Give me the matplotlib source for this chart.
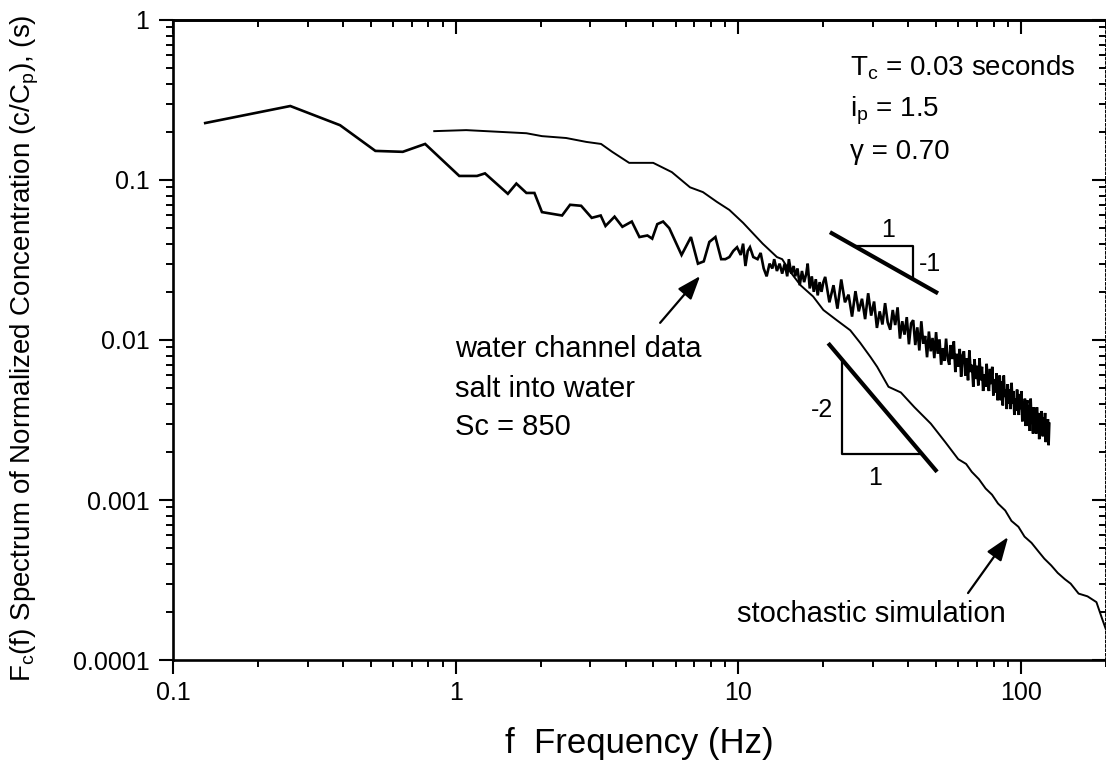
import numpy as np
import matplotlib
matplotlib.use("Agg")
import matplotlib.pyplot as plt
from matplotlib.ticker import LogLocator, FuncFormatter, NullFormatter

plt.rcParams['font.family'] = ['Liberation Sans', 'DejaVu Sans']
plt.rcParams['mathtext.default'] = 'regular'

# ---------------- data ----------------
# water channel data (salt into water), low frequency part
water_f_low = [0.13, 0.26, 0.39, 0.52, 0.65, 0.78, 1.03, 1.19, 1.27, 1.53, 1.64, 1.78,
               1.90, 2.02, 2.38, 2.54, 2.78, 3.03, 3.26, 3.39, 3.65, 3.89, 4.2, 4.47,
               4.77, 4.96, 5.17, 5.42, 5.7, 6.0, 6.3, 6.8, 7.2, 7.55, 7.9, 8.3, 8.7]
water_v_low = [0.227, 0.29, 0.22, 0.152, 0.15, 0.168, 0.106, 0.106, 0.11, 0.082, 0.095, 0.083,
               0.083, 0.063, 0.06, 0.07, 0.069, 0.058, 0.06, 0.0516, 0.059, 0.051, 0.055, 0.044,
               0.045, 0.043, 0.053, 0.055, 0.050, 0.041, 0.034, 0.044, 0.030, 0.031, 0.041, 0.044, 0.032]

# water channel data, mid frequency part
water_f_mid = [9.0, 9.3, 9.6, 9.9, 10.2, 10.4, 10.6, 10.8, 11.0, 11.3, 11.7, 12.0, 12.3,
               12.6, 12.9, 13.2, 13.4, 13.7, 14.0, 14.3, 14.6, 14.9, 15.1, 15.4, 15.7,
               15.9, 16.2, 16.5, 16.8, 17.1, 17.4, 17.6, 17.9, 18.2, 18.5, 18.8, 19.1,
               19.4, 19.7, 20.0]
water_v_mid = [0.032, 0.033, 0.036, 0.038, 0.034, 0.040, 0.029, 0.036, 0.038, 0.033, 0.032,
               0.035, 0.028, 0.025, 0.030, 0.028, 0.032, 0.027, 0.030, 0.026, 0.030, 0.025,
               0.032, 0.026, 0.029, 0.025, 0.028, 0.022, 0.027, 0.023, 0.026, 0.030, 0.021,
               0.025, 0.020, 0.024, 0.019, 0.023, 0.020, 0.023]

# water channel data, high frequency part (uniform FFT bins from 20.3 Hz to 126 Hz)
water_f_high_range = (20.3, 126.0)
water_v_high = [
    0.0248, 0.0172, 0.0220, 0.0157, 0.0239, 0.0172, 0.0192, 0.0140, 0.0202, 0.0151,
    0.0181, 0.0135, 0.0196, 0.0142, 0.0174, 0.0119, 0.0151, 0.0125, 0.0170, 0.0129,
    0.0116, 0.0154, 0.0124, 0.0160, 0.0102, 0.0131, 0.0108, 0.0139, 0.0094, 0.0127,
    0.0133, 0.0093, 0.0120, 0.0086, 0.0131, 0.0095, 0.0106, 0.0078, 0.0113, 0.0085,
    0.0103, 0.0077, 0.0112, 0.0082, 0.0101, 0.0070, 0.0089, 0.0074, 0.0102, 0.0077,
    0.0070, 0.0093, 0.0076, 0.0098, 0.0063, 0.0082, 0.0068, 0.0088, 0.0059, 0.0080,
    0.0085, 0.0060, 0.0077, 0.0056, 0.0086, 0.0063, 0.0070, 0.0051, 0.0076, 0.0057,
    0.0069, 0.0052, 0.0077, 0.0056, 0.0068, 0.0048, 0.0061, 0.0051, 0.0071, 0.0054,
    0.0048, 0.0066, 0.0053, 0.0068, 0.0045, 0.0057, 0.0047, 0.0062, 0.0042, 0.0056,
    0.0060, 0.0042, 0.0055, 0.0039, 0.0060, 0.0044, 0.0049, 0.0037, 0.0053, 0.0040,
    0.0049, 0.0037, 0.0054, 0.0040, 0.0048, 0.0034, 0.0043, 0.0036, 0.0049, 0.0038,
    0.0034, 0.0046, 0.0037, 0.0048, 0.0031, 0.0040, 0.0033, 0.0043, 0.0029, 0.0040,
    0.0042, 0.0029, 0.0039, 0.0027, 0.0043, 0.0031, 0.0035, 0.0026, 0.0038, 0.0028,
    0.0035, 0.0026, 0.0038, 0.0028, 0.0035, 0.0024, 0.0031, 0.0026, 0.0036, 0.0027,
    0.0025, 0.0033, 0.0028, 0.0035, 0.0023, 0.0030, 0.0025, 0.0032, 0.0022, 0.0030]

# stochastic simulation
stoch_f = [0.84, 1.09, 1.78, 2.02, 2.46, 2.9, 3.27, 3.58, 4.11, 5.0, 5.82, 6.75, 7.5,
           8.4, 9.3, 10.4, 12.2, 13.7, 14.3, 15.2, 16.6, 18.4, 20.0, 22.3, 24.9, 27.0,
           29.4, 31.0, 34.0, 37.6, 42.0, 48.0, 54.0, 60.0, 64.0, 67.0, 71.0, 75.0, 79.0,
           83.0, 88.0, 92.6, 98.0, 103.0, 109.0, 115.0, 121.0, 128.0, 135.0, 143.0,
           150.0, 160.0, 172.0, 185.0, 194.0, 200.0]
stoch_v = [0.202, 0.205, 0.196, 0.188, 0.183, 0.173, 0.168, 0.150, 0.128, 0.128, 0.112,
           0.090, 0.084, 0.073, 0.065, 0.054, 0.040, 0.033, 0.032, 0.027, 0.022, 0.0187,
           0.0154, 0.0133, 0.0115, 0.0096, 0.0078, 0.0068, 0.0051, 0.0047, 0.0038, 0.0030,
           0.0023, 0.0018, 0.00168, 0.0015, 0.00135, 0.00118, 0.00108, 0.00095, 0.00086,
           0.00074, 0.00068, 0.00059, 0.00054, 0.00048, 0.00043, 0.00039, 0.00035,
           0.00032, 0.00030, 0.00026, 0.00025, 0.00023, 0.00018, 0.000155]

# slope guides
slope1_line_f = [21.1, 50.9]
slope1_line_v = [0.0472, 0.01957]
slope1_tri_f = [25.7, 41.6, 41.6]
slope1_tri_v = [0.0387, 0.0387, 0.0239]
slope2_line_f = [20.8, 50.5]
slope2_line_v = [0.00955, 0.00150]
slope2_tri_f = [23.3, 23.3, 44.6]
slope2_tri_v = [0.00754, 0.00194, 0.00194]

xticks = [0.1, 1, 10, 100]
yticks = [0.0001, 0.001, 0.01, 0.1, 1]

# ---------------- figure ----------------
W, H = 1106, 771
fig = plt.figure(figsize=(W / 100, H / 100), dpi=100)
ax = fig.add_axes([173 / W, 1 - 660 / H, 933 / W, 640 / H])
ax.set_xscale('log')
ax.set_yscale('log')

water_f = (list(water_f_low) + list(water_f_mid)
           + list(np.linspace(water_f_high_range[0], water_f_high_range[1], len(water_v_high))))
water_v = list(water_v_low) + list(water_v_mid) + list(water_v_high)

ax.plot(water_f, water_v, color='black', lw=1.9, solid_joinstyle='miter')
ax.plot(stoch_f, stoch_v, color='black', lw=1.4)

ax.plot(slope1_line_f, slope1_line_v, color='black', lw=3.0, solid_capstyle='butt')
ax.plot(slope1_tri_f, slope1_tri_v, color='black', lw=1.6)
ax.plot(slope2_line_f, slope2_line_v, color='black', lw=3.0, solid_capstyle='butt')
ax.plot(slope2_tri_f, slope2_tri_v, color='black', lw=1.6)

ax.set_xlim(0.1, 200)
ax.set_ylim(1e-4, 1)

fmt = FuncFormatter(lambda v, p: '%g' % v)
ax.xaxis.set_major_locator(LogLocator(base=10, numticks=10))
ax.yaxis.set_major_locator(LogLocator(base=10, numticks=10))
ax.xaxis.set_minor_locator(LogLocator(base=10, subs=np.arange(2, 10), numticks=20))
ax.yaxis.set_minor_locator(LogLocator(base=10, subs=np.arange(2, 10), numticks=20))
ax.set_xticks(xticks)
ax.set_yticks(yticks)
ax.xaxis.set_major_formatter(fmt)
ax.yaxis.set_major_formatter(fmt)
ax.xaxis.set_minor_formatter(NullFormatter())
ax.yaxis.set_minor_formatter(NullFormatter())

ax.tick_params(which='major', direction='out', length=10, width=1.5, labelsize=18,
               top=False, right=False)
ax.tick_params(which='minor', direction='out', length=5, width=1.4, top=False, right=False)
ax.tick_params(axis='x', which='major', pad=5)
ax.tick_params(axis='y', which='major', pad=7)

for side in ['left', 'bottom', 'top']:
    ax.spines[side].set_linewidth(1.9)
ax.spines['right'].set_linewidth(1.2)
ax.spines['right'].set_linestyle(':')

secx = ax.secondary_xaxis('top')
secx.tick_params(which='major', direction='in', length=10, width=1.5, labeltop=False)
secx.tick_params(which='minor', direction='in', length=5, width=1.4)
secx.xaxis.set_major_formatter(NullFormatter())
secx.xaxis.set_minor_formatter(NullFormatter())
secx.spines['top'].set_linewidth(1.9)
secy = ax.secondary_yaxis('right')
secy.tick_params(which='major', direction='in', length=10, width=1.5, labelright=False)
secy.tick_params(which='minor', direction='in', length=5, width=1.4)
secy.yaxis.set_major_formatter(NullFormatter())
secy.yaxis.set_minor_formatter(NullFormatter())
secy.spines['right'].set_linestyle(':')
secy.spines['right'].set_linewidth(1.2)

ax.set_xlabel('f  Frequency (Hz)', fontsize=25)
ax.xaxis.set_label_coords(0.5, -0.105)
ax.xaxis.label.set_va('top')
fig.text(25 / W, 1 - 348 / H,
         r'F$_\mathregular{c}$(f) Spectrum of Normalized Concentration (c/C$_\mathregular{p}$), (s)',
         rotation=90, ha='center', va='center', fontsize=20)

# parameter block
ax.text(24.9, 0.453, r'T$_\mathregular{c}$ = 0.03 seconds', fontsize=20, ha='left', va='baseline')
ax.text(24.9, 0.248, r'i$_\mathregular{p}$ = 1.5', fontsize=20, ha='left', va='baseline')
ax.text(24.9, 0.135, 'γ = 0.70', fontsize=20, ha='left', va='baseline')

# annotations
ax.text(0.995, 0.00783, 'water channel data', fontsize=21, ha='left', va='baseline')
ax.text(0.995, 0.0044, 'salt into water', fontsize=21, ha='left', va='baseline')
ax.text(0.995, 0.00255, 'Sc = 850', fontsize=21, ha='left', va='baseline')
ax.text(9.9, 0.000173, 'stochastic simulation', fontsize=21, ha='left', va='baseline')

arrow_kw = dict(arrowstyle='-|>,head_length=0.6,head_width=0.22', color='black',
                lw=1.6, mutation_scale=24, shrinkA=0, shrinkB=0)
ax.annotate('', xy=(7.33, 0.0251), xytext=(5.29, 0.0128), arrowprops=arrow_kw)
ax.annotate('', xy=(90.1, 0.000587), xytext=(65.0, 0.000262), arrowprops=arrow_kw)

# slope labels
ax.text(33.9, 0.049, '1', fontsize=18, ha='center', va='center')
ax.text(47.7, 0.030, '-1', fontsize=18, ha='center', va='center')
ax.text(19.8, 0.00365, '-2', fontsize=18, ha='center', va='center')
ax.text(30.5, 0.00137, '1', fontsize=18, ha='center', va='center')

fig.savefig('out.png', dpi=100)
